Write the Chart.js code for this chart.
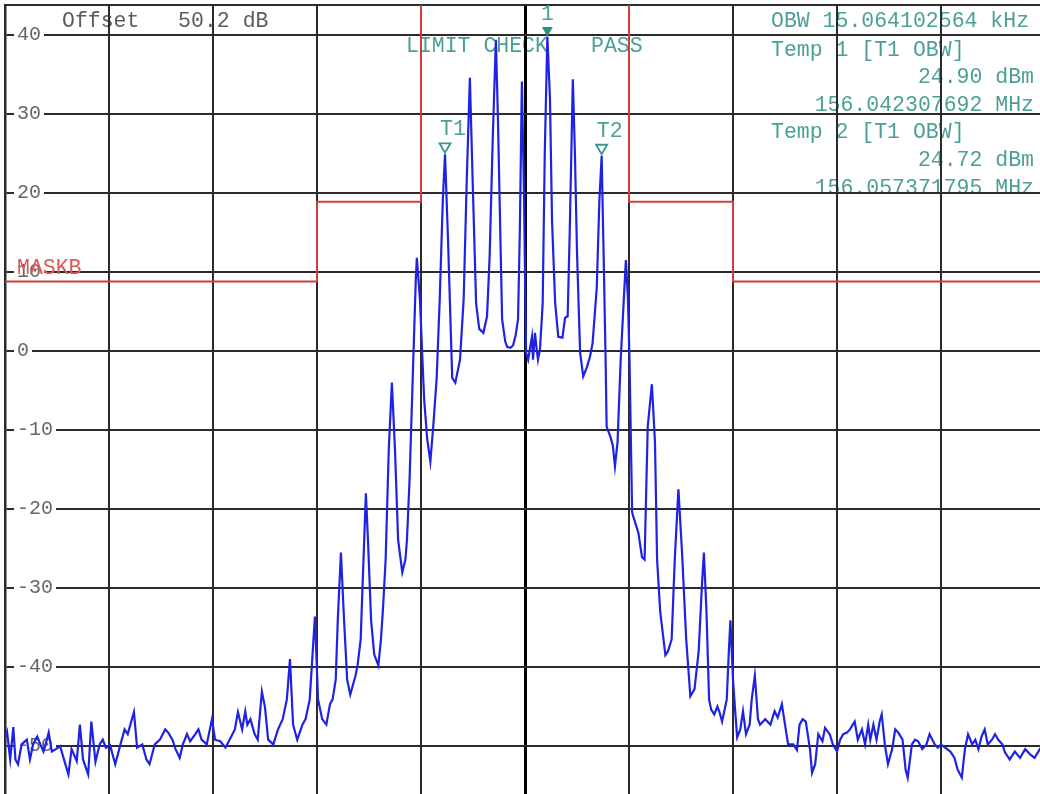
<!DOCTYPE html>
<html>
<head>
<meta charset="utf-8">
<script src="https://cdn.jsdelivr.net/npm/chart.js@4.4.1/dist/chart.umd.min.js"></script>
<style>
  html, body { margin: 0; padding: 0; background: #fff; overflow: hidden; width: 1040px; height: 794px; }
  #spec { position: absolute; left: 0; top: 0; }
</style>
</head>
<body>
<canvas id="spec" width="1050" height="830"></canvas>
<script>
// Spectrum trace: frequency offset from 156.05 MHz centre (kHz) and level (dBm)
const traceFreq = [
  -50.0, -49.8, -49.5, -49.2, -49.0, -48.75, -48.4, -47.9, -47.6, -47.3,
  -46.9, -46.6, -46.3, -46.1, -45.8, -45.5, -45.1, -44.7, -44.2, -43.9,
  -43.6, -43.1, -42.8, -42.5, -42.0, -41.7, -41.3, -40.9, -40.6, -40.3,
  -39.9, -39.4, -38.9, -38.5, -38.2, -37.6, -37.3, -36.8, -36.4, -36.1,
  -35.6, -35.1, -34.6, -34.3, -33.9, -33.6, -33.2, -32.9, -32.5, -32.2,
  -31.7, -31.4, -31.1, -30.6, -30.1, -29.8, -29.3, -28.8, -28.4, -27.9,
  -27.6, -27.2, -26.9, -26.7, -26.4, -26.0, -25.7, -25.3, -25.0, -24.7,
  -24.2, -23.75, -23.3, -22.9, -22.6, -22.3, -21.9, -21.4, -21.1, -20.7,
  -20.4, -20.2, -19.9, -19.5, -19.1, -18.75, -18.5, -18.2, -18.0, -17.7,
  -17.4, -17.1, -16.8, -16.3, -16.1, -15.8, -15.6, -15.3, -15.1, -14.8,
  -14.5, -14.1, -13.85, -13.65, -13.4, -13.1, -12.8, -12.5, -12.2, -11.8,
  -11.5, -11.35, -11.1, -10.8, -10.5, -10.4, -10.1, -9.7, -9.4, -9.1,
  -8.85, -8.5, -8.2, -7.9, -7.69, -7.4, -7.0, -6.7, -6.25, -5.9,
  -5.6, -5.3, -5.0, -4.7, -4.4, -4.0, -3.65, -3.4, -3.1, -2.8,
  -2.6, -2.4, -2.2, -1.9, -1.7, -1.4, -1.15, -0.9, -0.67, -0.5,
  -0.3, -0.1, 0.1, 0.3, 0.5, 0.67, 0.77, 0.96, 1.1, 1.25,
  1.44, 1.7, 1.9, 2.15, 2.4, 2.6, 2.9, 3.2, 3.6, 3.85,
  4.1, 4.3, 4.6, 4.8, 5.0, 5.3, 5.6, 5.96, 6.25, 6.5,
  6.9, 7.15, 7.37, 7.55, 7.75, 7.85, 8.2, 8.45, 8.65, 8.9,
  9.2, 9.5, 9.7, 9.9, 10.05, 10.3, 10.4, 10.9, 11.25, 11.5,
  11.8, 12.2, 12.5, 12.7, 13.0, 13.5, 13.75, 14.1, 14.4, 14.75,
  15.1, 15.5, 15.9, 16.3, 16.7, 17.0, 17.2, 17.45, 17.7, 17.9,
  18.2, 18.5, 18.7, 18.95, 19.4, 19.6, 19.75, 20.0, 20.2, 20.4,
  20.7, 20.96, 21.25, 21.6, 21.8, 22.1, 22.4, 22.6, 23.1, 23.6,
  24.0, 24.3, 24.7, 25.0, 25.3, 25.8, 26.15, 26.4, 26.7, 27.0,
  27.4, 27.6, 27.9, 28.2, 28.6, 28.85, 29.3, 29.6, 30.0, 30.3,
  30.6, 30.96, 31.25, 31.7, 32.0, 32.4, 32.7, 33.0, 33.2, 33.5,
  33.8, 34.1, 34.3, 34.6, 34.9, 35.3, 35.6, 35.9, 36.3, 36.6,
  36.8, 37.2, 37.5, 37.8, 38.2, 38.6, 38.9, 39.4, 39.7, 40.0,
  40.4, 40.9, 41.3, 41.6, 42.0, 42.3, 42.6, 43.0, 43.3, 43.6,
  43.9, 44.2, 44.5, 44.9, 45.2, 45.5, 45.9, 46.15, 46.6, 47.1,
  47.6, 48.1, 48.6, 49.0, 49.5, 50.0
];
const traceLevel = [
  -49.0, -48.2, -51.7, -47.6, -51.7, -52.3, -49.8, -49.2, -51.7, -49.8,
  -48.8, -49.8, -50.7, -49.8, -48.3, -50.7, -50.4, -50.0, -52.3, -53.6,
  -50.4, -51.9, -47.3, -51.7, -53.6, -46.9, -52.0, -49.8, -49.2, -50.2,
  -49.9, -52.3, -49.8, -47.9, -48.5, -45.7, -50.2, -49.8, -51.7, -52.3,
  -49.8, -49.2, -47.9, -48.3, -49.2, -50.4, -51.5, -49.8, -48.5, -49.4,
  -48.5, -47.9, -49.2, -49.8, -46.6, -49.2, -49.4, -50.2, -49.2, -47.9,
  -45.7, -47.9, -45.6, -47.3, -46.6, -48.5, -49.2, -43.1, -45.1, -49.2,
  -49.8, -47.9, -46.6, -44.1, -39.0, -47.3, -49.2, -47.3, -46.6, -44.1,
  -37.8, -33.6, -44.1, -46.6, -47.3, -44.7, -44.1, -41.6, -34.0, -25.5,
  -34.0, -41.6, -43.5, -41.1, -39.8, -36.5, -29.0, -18.0, -23.9, -34.0,
  -38.4, -39.8, -36.5, -32.5, -26.4, -12.5, -4.0, -12.5, -23.9, -28.0,
  -26.4, -23.9, -16.3, -3.6, 9.1, 11.8, 6.5, -6.1, -11.2, -14.0,
  -10.0, -3.6, 6.5, 19.2, 24.90, 14.0, -3.4, -4.0, -1.1, 6.5,
  21.7, 34.6, 20.0, 6.0, 2.8, 2.3, 4.4, 12.0, 27.0, 39.4,
  29.3, 16.5, 4.0, 1.2, 0.5, 0.4, 0.7, 2.0, 4.0, 15.0,
  34.1, 20.0, -0.2, -1.1, 0.5, 1.8, -1.1, 2.3, 0.5, -1.1,
  0.2, 6.0, 25.0, 39.8, 32.0, 16.5, 6.1, 1.8, 1.7, 4.2,
  4.4, 15.0, 34.4, 25.0, 12.5, -0.2, -3.2, -2.0, -0.7, 1.0,
  8.0, 19.0, 24.72, 12.8, -1.1, -9.6, -10.8, -12.0, -14.6, -11.5,
  -1.1, 6.5, 11.5, 6.5, -1.1, -20.4, -20.9, -23.0, -26.1, -26.4,
  -9.6, -4.2, -11.6, -26.4, -33.0, -38.5, -38.0, -36.5, -26.4, -17.5,
  -25.5, -36.5, -43.7, -42.8, -38.0, -30.0, -25.5, -33.0, -44.1, -45.4,
  -46.0, -45.0, -45.7, -46.9, -44.1, -38.0, -34.1, -41.6, -45.4, -48.9,
  -47.9, -45.6, -48.5, -47.3, -44.1, -41.1, -46.6, -47.3, -46.6, -47.3,
  -45.6, -46.4, -44.7, -47.3, -49.8, -49.8, -50.5, -47.3, -46.6, -46.9,
  -50.4, -53.4, -52.3, -48.5, -49.4, -47.7, -48.5, -49.8, -50.7, -49.2,
  -48.5, -48.3, -47.9, -46.9, -49.2, -47.9, -49.8, -47.3, -49.2, -47.3,
  -49.2, -46.9, -46.0, -49.8, -52.3, -50.4, -47.9, -48.3, -49.2, -53.0,
  -54.0, -49.8, -49.2, -49.4, -50.4, -49.8, -48.5, -49.8, -50.2, -49.8,
  -50.2, -50.7, -51.5, -53.0, -54.0, -50.4, -48.5, -49.8, -49.2, -50.4,
  -48.8, -47.9, -49.8, -49.2, -48.5, -49.2, -49.8, -50.8, -51.7, -50.7,
  -51.5, -50.4, -51.1, -51.5, -50.4, -51.0
];

// Limit mask (MASKB) corner points
const maskFreq  = [-50, -20, -20, -10, -10, 10, 10, 20, 20, 50];
const maskLevel = [8.8, 8.8, 18.9, 18.9, 60, 60, 18.9, 18.9, 8.8, 8.8];

// Markers
const markerName  = ['T1', '1', 'T2'];
const markerFreq  = [-7.69, 2.15, 7.37];
const markerLevel = [24.90, 39.8, 24.72];
const markerFilled = [false, true, false];

// Level axis ticks
const levelTicks = [40, 30, 20, 10, 0, -10, -20, -30, -40, -50, -60];

// Annotation texts
const offsetText = 'Offset   50.2 dB';
const infoLeftLines = ['OBW 15.064102564 kHz', 'Temp 1 [T1 OBW]', null, null, 'Temp 2 [T1 OBW]', null, null];
const infoRightLines = [null, null, '24.90 dBm', '156.042307692 MHz', null, '24.72 dBm', '156.057371795 MHz'];
const limitText = 'LIMIT CHECK';
const passText = 'PASS';
const maskName = 'MASKB';

const MONO = '"Liberation Mono", "DejaVu Sans Mono", monospace';
const TEAL = '#4c9f97';
const GRID = '#2b2b2b';

const annotations = {
  id: 'annotations',
  beforeDraw(chart) {
    const ctx = chart.ctx;
    ctx.save();
    ctx.font = '21.5px ' + MONO;
    ctx.textBaseline = 'middle';
    ctx.fillStyle = '#5c5c5c';
    ctx.textAlign = 'left';
    ctx.fillText(offsetText, 62, 21);

    ctx.beginPath();
    ctx.rect(0, 0, 1050, 192);
    ctx.clip();
    ctx.fillStyle = TEAL;
    const rowY = [21, 50, 77.6, 105.2, 132.8, 160.4, 188];
    infoLeftLines.forEach((t, i) => {
      if (t) { ctx.textAlign = 'left'; ctx.fillText(t, 771, rowY[i]); }
    });
    infoRightLines.forEach((t, i) => {
      if (t) { ctx.textAlign = 'right'; ctx.fillText(t, 1034, rowY[i]); }
    });
    ctx.textAlign = 'left';
    ctx.fillText(limitText, 406, 46);
    ctx.fillText(passText, 591, 46);
    ctx.restore();
  },
  beforeDatasetsDraw(chart) {
    const {ctx, chartArea} = chart;
    ctx.save();
    ctx.strokeStyle = GRID;
    ctx.lineWidth = 2;
    ctx.beginPath();
    ctx.moveTo(chartArea.left, chartArea.top);
    ctx.lineTo(chartArea.right, chartArea.top);
    ctx.stroke();
    ctx.restore();
  },
  afterDatasetsDraw(chart) {
    const {ctx, scales: {x, y}} = chart;
    ctx.save();
    ctx.font = '21.5px ' + MONO;
    ctx.textBaseline = 'middle';
    ctx.textAlign = 'center';

    markerName.forEach((name, i) => {
      const px = x.getPixelForValue(markerFreq[i]);
      const tip = y.getPixelForValue(markerLevel[i]) - (markerFilled[i] ? 0 : 1.5);
      ctx.beginPath();
      ctx.moveTo(px - 5.5, tip - 9.5);
      ctx.lineTo(px + 5.5, tip - 9.5);
      ctx.lineTo(px, tip);
      ctx.closePath();
      if (markerFilled[i]) {
        ctx.fillStyle = '#2e9185';
        ctx.fill();
      } else {
        ctx.strokeStyle = '#3a968c';
        ctx.lineWidth = 1.8;
        ctx.stroke();
      }
      ctx.fillStyle = TEAL;
      const lx = markerFilled[i] ? px : px + 8;
      ctx.fillText(name, lx, tip - (markerFilled[i] ? 22 : 23));
    });

    ctx.fillStyle = '#dd5a5a';
    ctx.textAlign = 'left';
    ctx.fillText(maskName, 17, y.getPixelForValue(maskLevel[0]) - 13);
    ctx.restore();
  }
};

new Chart(document.getElementById('spec'), {
  type: 'line',
  data: {
    datasets: [
      {
        label: 'Trace',
        data: traceFreq.map((f, i) => ({x: f, y: traceLevel[i]})),
        borderColor: '#1e22e4',
        borderWidth: 2.2,
        pointRadius: 0,
        tension: 0,
        fill: false
      },
      {
        label: 'MASKB',
        data: maskFreq.map((f, i) => ({x: f, y: maskLevel[i]})),
        borderColor: '#d23c3c',
        borderWidth: 2,
        pointRadius: 0,
        tension: 0,
        fill: false
      }
    ]
  },
  options: {
    responsive: false,
    animation: false,
    devicePixelRatio: 1,
    layout: {padding: {left: 5, top: 5, right: 5, bottom: 5}},
    plugins: {legend: {display: false}, tooltip: {enabled: false}},
    scales: {
      x: {
        type: 'linear',
        min: -50,
        max: 50,
        ticks: {display: false, stepSize: 10},
        grid: {
          color: ctx => ctx.tick && ctx.tick.value === 0 ? '#000' : GRID,
          lineWidth: ctx => ctx.tick && ctx.tick.value === 0 ? 3 : 2,
          drawTicks: false
        },
        border: {display: false},
        afterFit: axis => { axis.height = 0; axis.paddingLeft = 0; axis.paddingRight = 0; }
      },
      y: {
        type: 'linear',
        min: -60,
        max: 43.8,
        afterBuildTicks: axis => { axis.ticks = levelTicks.map(v => ({value: v})); },
        afterFit: axis => { axis.width = 0; axis.paddingTop = 0; axis.paddingBottom = 0; },
        ticks: {
          mirror: true,
          padding: 12,
          showLabelBackdrop: true,
          backdropColor: '#ffffff',
          backdropPadding: {x: 3, y: 1},
          color: '#666666',
          font: {family: MONO, size: 20},
          callback: v => String(v)
        },
        grid: {color: GRID, lineWidth: 2, drawTicks: false},
        border: {color: '#2b2b2b', width: 2.5}
      }
    }
  },
  plugins: [annotations]
});
</script>
</body>
</html>
